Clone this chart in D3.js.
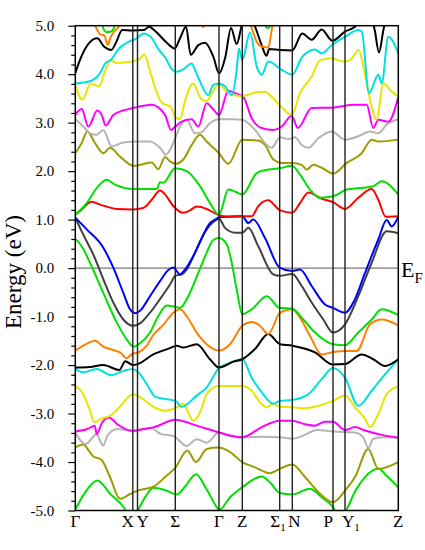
<!DOCTYPE html>
<html>
<head>
<meta charset="utf-8">
<script src="https://cdn.jsdelivr.net/npm/d3@7"></script>
<style>
  body { margin: 0; background: #fff; }
  text { font-family: "Liberation Serif", "Times New Roman", serif; fill: #000; }
</style>
</head>
<body>
<div id="chart"></div>
<script>
// ---------------------------------------------
// high-symmetry path (k distance) and labels
// ---------------------------------------------
const kTicks = [0, 57.5, 62.2, 100, 143.7, 167, 204.4, 217, 257.7, 269.7, 323];
const kLabels = ["Γ", "X", "Y", "Σ", "Γ", "Z", "Σ_1", "N", "P", "Y_1", "Z"];
const energyTicks = [-5, -4, -3, -2, -1, 0, 1, 2, 3, 4, 5];

// ---------------------------------------------
// bands, [k, E in eV]
// ---------------------------------------------
const greenLow = [[0,-4.98],[10,-4.62],[22,-4.38],[35,-4.66],[49.7,-4.97],[56,-5.2],[62.4,-5.0],[70,-4.72],[78,-4.53],[90,-4.58],[101.4,-4.67],[110,-4.5],[120.7,-4.25],[131,-4.55],[141.4,-4.93],[143.7,-4.99],[155,-4.72],[167,-4.52],[186.4,-4.30],[196,-4.45],[204.4,-4.64],[217,-4.67],[234.7,-4.55],[246,-4.72],[257.7,-4.93],[264,-5.15],[271.4,-4.97],[280,-4.6],[289.7,-4.31],[303,-4.14],[312,-4.3],[323,-4.52]];
const oliveLow = [[0,-3.70],[8,-3.64],[14,-3.78],[19,-3.90],[23,-3.92],[26.4,-3.96],[34.7,-4.31],[44.7,-4.76],[54.7,-4.66],[62.4,-4.59],[78,-4.51],[91.4,-4.28],[100,-4.12],[112,-3.76],[120.7,-4.0],[131.4,-3.73],[143.7,-3.70],[153,-3.77],[167,-4.0],[179.7,-4.11],[194.7,-4.23],[206.4,-4.12],[217,-4.05],[229.7,-4.31],[243,-4.62],[257.7,-4.83],[269.7,-4.59],[279.7,-4.31],[293,-3.73],[303,-4.14],[323,-4.0]];
const grayLow = [[0,-3.39],[5.4,-3.56],[10.4,-3.63],[18.7,-3.46],[21.4,-3.42],[25.4,-3.59],[28,-3.66],[32,-3.46],[42,-3.32],[57,-3.35],[75.4,-3.30],[85.4,-3.42],[98.7,-3.47],[111.4,-3.67],[121.4,-3.53],[131.4,-3.60],[143.7,-3.39],[153,-3.46],[167,-3.49],[186.4,-3.48],[204.4,-3.49],[217,-3.52],[229.7,-3.44],[241.4,-3.34],[257.7,-3.37],[279.7,-3.39],[288,-3.49],[293,-3.71],[298,-3.52],[309.7,-3.49],[323,-3.50]];
const magentaLow = [[0,-3.37],[12,-3.32],[19.4,-3.25],[21.4,-3.42],[27,-3.18],[33.7,-3.08],[42,-3.22],[57,-3.36],[68.7,-3.32],[78.7,-3.28],[100,-3.13],[121.4,-3.25],[143.7,-3.39],[167,-3.49],[186.4,-3.28],[204.4,-3.15],[217,-3.15],[229.7,-3.22],[239.7,-3.25],[249.7,-3.17],[257.7,-3.17],[269.7,-3.34],[279.7,-3.28],[289.7,-3.35],[306.4,-3.44],[323,-3.50]];
const yellowLow = [[0,-2.43],[8,-2.60],[14.7,-2.94],[19,-3.18],[25.4,-3.11],[35.4,-3.04],[45.4,-2.84],[57.4,-2.60],[65.4,-2.67],[78.7,-2.87],[90,-2.94],[100,-2.89],[108,-2.80],[113,-2.98],[118,-3.15],[124.7,-2.98],[131.4,-2.60],[143.7,-2.43],[167,-2.43],[176.4,-2.53],[184.7,-2.77],[191.4,-2.87],[198,-2.80],[204.4,-2.86],[217,-2.87],[229.7,-2.89],[243,-2.84],[257.7,-2.74],[269.7,-2.63],[279.7,-2.87],[289.7,-3.11],[294.7,-3.28],[303,-3.01],[311.4,-2.60],[323,-2.44]];
const cyanLow = [[0,-2.08],[8,-2.15],[21.4,-2.08],[36,-2.21],[48,-2.12],[57.4,-2.08],[63,-2.15],[71.4,-2.39],[79.7,-2.65],[90,-2.70],[100,-2.74],[106.4,-2.86],[121.4,-2.63],[131.4,-2.46],[143.7,-2.06],[153,-1.97],[167,-1.88],[176.4,-2.26],[186.4,-2.56],[198,-2.80],[204.4,-2.74],[217,-2.72],[233,-2.60],[246.4,-2.29],[257.7,-2.06],[269.7,-2.26],[283,-2.84],[296.4,-2.53],[309.7,-2.19],[323,-1.88]];
const blackLow = [[0,-2.05],[14.7,-2.04],[28,-2.0],[44,-2.1],[50,-1.92],[57.4,-2.0],[62.4,-1.98],[78,-1.78],[94.7,-1.65],[101.4,-1.60],[108,-1.64],[121.4,-1.57],[134.7,-1.88],[143.7,-2.05],[158,-1.93],[167,-1.88],[179.7,-1.67],[193,-1.36],[204.7,-1.57],[217,-1.60],[239.7,-1.74],[257.7,-1.99],[269.7,-1.98],[286.4,-1.78],[298,-1.88],[309.7,-2.02],[323,-1.88]];
const orangeMid = [[0,-1.70],[8,-1.60],[19.7,-1.50],[28,-1.62],[38,-1.69],[44.7,-1.74],[51.4,-1.86],[55,-1.80],[58,-1.76],[63,-1.74],[71.4,-1.60],[78,-1.38],[88,-1.17],[98,-0.92],[104.7,-0.85],[111.4,-0.99],[121.4,-1.33],[131.4,-1.57],[143.7,-1.70],[154.7,-1.57],[167,-1.19],[176.4,-1.11],[184.7,-1.19],[193,-1.36],[204.7,-0.92],[216.4,-0.85],[224.7,-1.02],[234.7,-1.40],[246.4,-1.78],[258,-1.73],[269.7,-1.71],[281.4,-1.71],[294.7,-1.16],[306.4,-1.06],[323,-1.18]];
const greenMid = [[0,0.60],[6.4,0.45],[14.7,0.11],[28,-0.51],[41.4,-1.12],[51.4,-1.47],[58,-1.62],[64.7,-1.55],[74.7,-1.33],[83,-0.99],[91.4,-0.77],[100,-0.80],[104.7,-0.82],[113,-0.58],[123,-0.10],[131.4,0.32],[138,0.58],[143.7,0.62],[151.4,0.49],[156.4,0.11],[161.4,-0.44],[167,-0.95],[176.4,-0.85],[191.4,-0.58],[204.4,-0.82],[217,-0.84],[228,-1.06],[239.7,-1.33],[257.7,-1.57],[269.7,-1.59],[283,-1.33],[296.4,-1.06],[306.4,-0.85],[323,-0.97]];
const darkGrayMid = [[0,1.04],[8,0.69],[18,0.28],[28,-0.23],[38,-0.71],[48,-1.06],[57.4,-1.19],[64.7,-1.14],[74.7,-0.92],[84.7,-0.64],[94.7,-0.34],[100,-0.16],[106.4,-0.13],[111.4,-0.03],[121.4,0.39],[131.4,0.80],[138,0.95],[143.7,1.02],[149.7,0.83],[159.7,0.73],[167,0.73],[173,0.83],[183,0.45],[198,-0.13],[204.4,-0.16],[217,-0.12],[226.4,-0.37],[236.4,-0.71],[248,-1.06],[257.7,-1.33],[269.7,-1.16],[283,-0.58],[296.4,0.11],[311.4,0.76],[323,0.72]];
const blueMid = [[0,1.04],[11.4,0.80],[28,0.42],[38,0.01],[48,-0.51],[54.7,-0.85],[59.7,-0.93],[64.7,-0.88],[74.7,-0.58],[84.7,-0.27],[93,-0.04],[98,0.01],[104.7,-0.13],[109.7,-0.03],[118,0.25],[128,0.69],[134.7,0.93],[141.4,1.02],[143.7,1.05],[167,1.07],[173,0.93],[178,1.0],[189.7,0.62],[204.4,0.01],[217,-0.06],[224.7,-0.03],[236.4,-0.37],[249.7,-0.75],[257.7,-0.82],[269.7,-0.92],[279.7,-0.64],[289.7,-0.10],[303,0.59],[311.4,0.99],[316.4,0.86],[323,1.06]];
const redMid = [[0,1.10],[6.4,1.21],[16.4,1.37],[24.7,1.31],[41.4,1.22],[58,1.21],[68,1.24],[76.4,1.41],[84.7,1.60],[89.7,1.52],[98,1.28],[107.4,1.14],[114.7,1.19],[121.4,1.27],[131.4,1.22],[143.7,1.09],[153,1.06],[167,1.07],[176.4,1.07],[183,1.28],[193,1.40],[204.7,1.19],[217,1.14],[224.7,1.34],[233,1.56],[246.4,1.43],[257.7,1.36],[269.7,1.22],[283,1.45],[296.4,1.63],[303,1.41],[310.4,1.06],[323,1.07]];
const greenUp = [[0,1.10],[11.4,1.34],[23,1.69],[31.4,1.82],[39.7,1.72],[58,1.63],[81.4,1.63],[84.7,1.77],[88,1.76],[99.7,2.06],[111.4,2.0],[124.7,1.69],[134.7,1.34],[143.7,1.10],[153,1.62],[159.7,1.58],[167,1.52],[181.4,1.96],[189.7,2.02],[204.7,2.06],[216.4,2.11],[224.7,1.93],[234.7,1.62],[244.7,1.45],[258,1.48],[271.4,1.62],[284.7,1.65],[298,1.69],[306.4,1.79],[323,1.52]];
const oliveUp = [[0,2.37],[6.4,2.58],[12,2.82],[19.7,2.58],[28,2.37],[34.7,2.48],[44.7,2.30],[58,2.11],[64.7,2.13],[76.4,2.18],[83,2.04],[89.7,2.29],[94.7,2.20],[100,2.15],[108,2.24],[116.4,2.54],[124.7,2.75],[131.4,2.61],[143.7,2.37],[153,2.15],[167,2.65],[183,2.63],[189.7,2.54],[198,2.24],[206.4,2.17],[217,2.17],[226.4,2.13],[231.4,2.03],[238,2.13],[246.4,2.07],[258,1.95],[271.4,2.17],[286.4,2.37],[296.4,2.65],[303,2.61],[323,2.65]];
const grayUp = [[0,3.07],[8,2.92],[14.7,2.78],[21.4,2.75],[28,2.85],[36.4,2.51],[48,2.59],[61.4,2.61],[74.7,2.61],[84.7,2.48],[90.7,2.34],[94.7,2.44],[100,2.68],[104.7,2.92],[111.4,3.06],[119.7,2.78],[126,2.80],[134.7,2.99],[143.7,3.07],[156.4,3.07],[167,3.06],[179.7,2.85],[189.7,2.58],[196.4,2.48],[204.7,2.70],[213,2.66],[219.7,2.70],[226.4,2.54],[233,2.48],[243,2.68],[256.4,2.82],[269.7,2.65],[283,2.72],[294.7,2.82],[303,2.78],[311.4,2.96],[323,3.07]];
const magentaUp = [[0,3.16],[6.4,3.28],[13,2.92],[22,3.25],[26.4,3.16],[30.4,2.94],[38,3.16],[48,3.25],[61.4,3.32],[76.4,3.37],[89.7,3.16],[95.7,2.85],[100,2.92],[106.4,3.02],[116.4,3.07],[123,2.92],[131.4,3.40],[138,3.27],[143.7,3.16],[153,3.66],[159.7,3.61],[168,3.53],[176.4,3.09],[186.4,2.89],[198,2.85],[206.4,2.92],[216.4,3.14],[222.4,2.89],[236.4,3.30],[256.4,3.31],[279.7,3.37],[291.4,3.37],[298,2.89],[303,3.06],[313,3.02],[323,3.53]];
const yellowUp = [[0,3.78],[7,3.47],[15.4,3.81],[23.7,3.75],[30.4,4.09],[35.4,4.29],[40.4,4.23],[57,4.26],[65.4,4.33],[68.7,4.41],[75.4,4.02],[80.4,3.68],[87,3.40],[95.4,3.33],[100,3.12],[104.7,3.07],[110,3.47],[118,3.81],[124.7,3.52],[131,3.44],[137,3.62],[143.7,3.80],[149.7,3.68],[158,3.57],[167,3.55],[179.7,3.62],[189.7,3.64],[198,3.50],[206.4,3.32],[216.4,3.16],[224.7,3.61],[236.4,3.95],[244.7,4.29],[256.4,4.33],[268,4.26],[274.7,4.29],[283.7,4.50],[288,4.16],[296.4,3.33],[301.4,3.06],[308,3.81],[316.4,3.64],[323,3.54]];
const cyanUp = [[0,3.81],[15.4,3.86],[23.7,3.99],[30.4,4.23],[35.4,4.29],[43.7,4.53],[53.7,4.67],[60.4,4.73],[68.7,4.84],[75.4,4.77],[83.7,4.50],[90.4,4.33],[97,4.09],[102,4.05],[108,4.10],[116.4,4.22],[119.7,4.09],[124.7,3.85],[133,3.57],[138,3.78],[143.7,3.81],[149.7,3.75],[156.4,3.57],[161.4,4.09],[163.7,4.53],[167,4.29],[174.7,4.86],[181.4,4.16],[186.4,3.99],[193,4.26],[206.4,4.09],[217,3.99],[227,4.36],[239.7,4.51],[246.4,4.43],[256.4,4.60],[269.7,4.77],[283,4.91],[286.4,4.88],[293.7,3.61],[303,3.99],[306.4,3.81],[313,4.77],[323,4.43]];
const blackUp = [[0,4.02],[5.4,4.33],[13.7,4.64],[22,4.74],[28.7,4.57],[36,4.50],[40.4,4.64],[47,4.91],[57,4.90],[68.7,4.91],[73.7,4.98],[80.4,4.88],[90.4,4.67],[99.4,4.53],[104.7,4.74],[110.7,4.98],[115.4,4.40],[123,4.60],[129.7,4.65],[138,4.36],[143.7,4.02],[150,4.35],[155.7,4.95],[161.4,4.62],[166.4,5.0],[172,5.25],[179.7,4.98],[186,4.62],[191.2,4.38],[194,4.52],[204.4,4.50],[217,4.49],[227,4.84],[236.4,4.71],[246.4,4.92],[257,4.69],[269.7,4.88],[279.7,4.98],[288,5.2]];
const blackTop = [[296,5.2],[299.5,4.9],[303.7,4.45],[308,4.9],[311,5.2]];
const orangeTopLeft = [[17,5.15],[21,4.95],[25,4.82],[29,4.80],[32.5,4.60],[35,4.75],[39,4.88],[44,5.0],[47,5.15]];
const greenTopLeft = [[26.5,5.1],[28.5,4.92],[31,4.87],[36,4.88],[39,4.98],[40.5,5.1]];
const orangeTopMid = [[125,5.1],[128,4.97],[131,5.1]];
const orangeTopRight = [[173,5.15],[176.4,4.95],[181.4,4.67],[186.4,4.57],[193,4.55],[196.4,4.91],[198.5,5.15]];
const greenTopRight = [[189.5,5.1],[191.2,4.96],[193.8,4.96],[195.5,5.1]];

const bands = [
  { pts: greenLow, color: "#00e000" },
  { pts: oliveLow, color: "#9c9c00" },
  { pts: grayLow, color: "#b4b4b4" },
  { pts: magentaLow, color: "#ff00ff" },
  { pts: yellowLow, color: "#e6e600" },
  { pts: cyanLow, color: "#00e0e0" },
  { pts: blackLow, color: "#000000" },
  { pts: orangeMid, color: "#ff8000" },
  { pts: greenMid, color: "#00e000" },
  { pts: darkGrayMid, color: "#404040" },
  { pts: blueMid, color: "#0000ff" },
  { pts: redMid, color: "#ff0000" },
  { pts: greenUp, color: "#00e000" },
  { pts: oliveUp, color: "#9c9c00" },
  { pts: grayUp, color: "#b4b4b4" },
  { pts: magentaUp, color: "#ff00ff" },
  { pts: yellowUp, color: "#e6e600" },
  { pts: cyanUp, color: "#00e0e0" },
  { pts: blackUp, color: "#000000" },
  { pts: blackTop, color: "#000000" },
  { pts: orangeTopLeft, color: "#ff8000" },
  { pts: greenTopLeft, color: "#00e000" },
  { pts: orangeTopMid, color: "#ff8000" },
  { pts: orangeTopRight, color: "#ff8000" },
  { pts: greenTopRight, color: "#00e000" }
];

// ---------------------------------------------
// layout
// ---------------------------------------------
const width = 425;
const height = 550;
const plot = { left: 75.3, right: 398.3, top: 25.7, bottom: 510.5 };

const svg = d3.select("#chart")
  .append("svg")
  .attr("width", width)
  .attr("height", height);

const x = d3.scaleLinear()
  .domain([0, d3.max(kTicks)])
  .range([plot.left, plot.right]);

const y = d3.scaleLinear()
  .domain([-5, 5])
  .range([plot.bottom, plot.top]);

svg.append("clipPath")
  .attr("id", "clip")
  .append("rect")
  .attr("x", plot.left)
  .attr("y", plot.top)
  .attr("width", plot.right - plot.left)
  .attr("height", plot.bottom - plot.top);

// Fermi level
svg.append("line")
  .attr("x1", plot.left).attr("x2", plot.right)
  .attr("y1", y(0)).attr("y2", y(0))
  .attr("stroke", "#555").attr("stroke-width", 1);

// bands
const line = d3.line()
  .x(d => x(d[0]))
  .y(d => y(d[1]))
  .curve(d3.curveMonotoneX);

svg.append("g")
  .attr("clip-path", "url(#clip)")
  .selectAll("path")
  .data(bands)
  .enter()
  .append("path")
  .attr("d", d => line(d.pts))
  .attr("fill", "none")
  .attr("stroke", d => d.color)
  .attr("stroke-width", 2)
  .attr("stroke-linejoin", "round");

// high symmetry lines
svg.append("g")
  .selectAll("line")
  .data(kTicks.slice(1, -1))
  .enter()
  .append("line")
  .attr("x1", d => x(d)).attr("x2", d => x(d))
  .attr("y1", plot.top).attr("y2", plot.bottom)
  .attr("stroke", "#222")
  .attr("stroke-width", 1.4);

// frame
svg.append("rect")
  .attr("x", plot.left)
  .attr("y", plot.top)
  .attr("width", plot.right - plot.left)
  .attr("height", plot.bottom - plot.top)
  .attr("fill", "none")
  .attr("stroke", "#000")
  .attr("stroke-width", 1.5);

// y axis: major + minor ticks
const minorTicks = d3.range(-5, 5.001, 0.2)
  .filter(v => Math.abs(v - Math.round(v)) > 1e-6);

svg.append("g")
  .attr("transform", `translate(${plot.left},0)`)
  .call(d3.axisLeft(y).tickValues(minorTicks).tickSize(4).tickFormat(""))
  .call(g => g.select(".domain").remove())
  .call(g => g.selectAll("line").attr("stroke", "#000").attr("stroke-width", 1.2));

svg.append("g")
  .attr("transform", `translate(${plot.left},0)`)
  .call(d3.axisLeft(y).tickValues(energyTicks).tickSize(7).tickPadding(14)
    .tickFormat(d => d.toFixed(1)))
  .call(g => g.select(".domain").remove())
  .call(g => g.selectAll("line").attr("stroke", "#000").attr("stroke-width", 1.2))
  .call(g => g.selectAll("text")
    .attr("font-family", "Liberation Serif, Times New Roman, serif")
    .attr("font-size", 15)
    .attr("fill", "#000"));

// y title
svg.append("text")
  .attr("transform", `translate(21,272) rotate(-90)`)
  .attr("text-anchor", "middle")
  .attr("font-size", 23)
  .text("Energy (eV)");

// k-point labels
const labelAnchor = ["middle", "end", "start", "middle", "middle", "middle", "end", "middle", "end", "start", "middle"];
const labelShift = [0, 1, -1, 0, 0, 0, 6, 2, 0, -3, 0];

const kText = svg.append("g")
  .selectAll("text")
  .data(kLabels)
  .enter()
  .append("text")
  .attr("x", (d, i) => x(kTicks[i]) + labelShift[i])
  .attr("y", 527)
  .attr("text-anchor", (d, i) => labelAnchor[i])
  .attr("font-size", 17);

kText.each(function (d) {
  const parts = d.split("_");
  const t = d3.select(this);
  t.append("tspan").text(parts[0]);
  if (parts[1]) {
    t.append("tspan")
      .attr("font-size", 11)
      .attr("dy", 4)
      .text(parts[1]);
  }
});

// Fermi label
const ef = svg.append("text")
  .attr("x", 401)
  .attr("y", y(0) + 9)
  .attr("font-size", 22);
ef.append("tspan").text("E");
ef.append("tspan").attr("font-size", 15).attr("dy", 6).text("F");
</script>
</body>
</html>
